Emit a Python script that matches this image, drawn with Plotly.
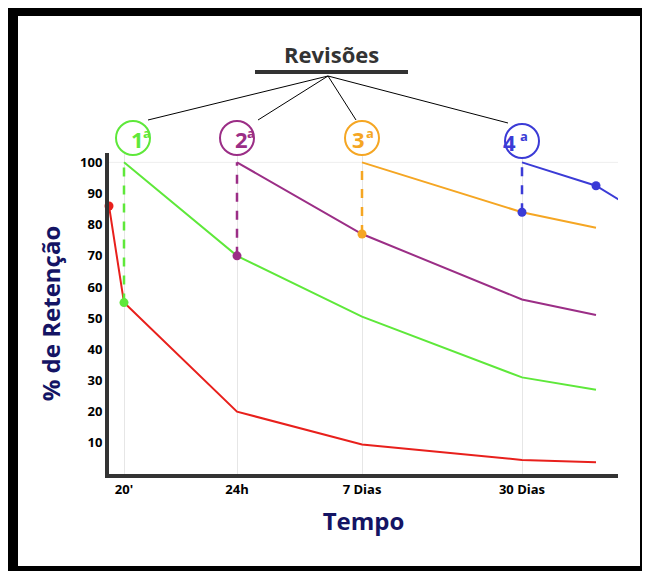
import plotly.graph_objects as go

# x positions (time axis units) and tick labels
tick_x = [15, 128, 253, 413]
tick_labels = ["20'", "24h", "7 Dias", "30 Dias"]

red_x = [0, 15, 128, 253, 413, 487]
red_y = [86, 55, 20, 9.5, 4.5, 3.8]
green_x = [15, 128, 253, 413, 487]
green_y = [100, 70, 50.5, 31, 27]
purple_x = [128, 253, 413, 487]
purple_y = [100, 77, 56, 51]
orange_x = [253, 413, 487]
orange_y = [100, 84, 79]
blue_x = [413, 487, 510]
blue_y = [100, 92.5, 88]

RED, GREEN, PURPLE, ORANGE, BLUE = "#e8201c", "#5ee83a", "#9b2e86", "#f5a623", "#3b3bd6"

L, R, T, B, W, H = 101, 40, 145, 105, 650, 571
def px(x): return (x - L) / (W - L - R)
def py(y): return (H - B - y) / (H - T - B)

fig = go.Figure()
lines = [(red_x, red_y, RED), (green_x, green_y, GREEN), (purple_x, purple_y, PURPLE),
         (orange_x, orange_y, ORANGE), (blue_x, blue_y, BLUE)]
for xs, ys, c in lines:
    fig.add_trace(go.Scatter(x=xs, y=ys, mode="lines", line=dict(color=c, width=2)))

# dashed jumps at each review
prev = [(green_x[0], red_y[1], GREEN), (purple_x[0], green_y[1], PURPLE),
        (orange_x[0], purple_y[1], ORANGE), (blue_x[0], orange_y[1], BLUE)]
for x, y0, c in prev:
    fig.add_trace(go.Scatter(x=[x, x], y=[y0, 100], mode="lines",
                             line=dict(color=c, width=2.5, dash="dash")))

mk = [(red_x[0], red_y[0], RED), (green_x[0], red_y[1], GREEN), (purple_x[0], green_y[1], PURPLE),
      (orange_x[0], purple_y[1], ORANGE), (blue_x[0], orange_y[1], BLUE), (blue_x[1], blue_y[1], BLUE)]
for x, y, c in mk:
    fig.add_trace(go.Scatter(x=[x], y=[y], mode="markers", marker=dict(color=c, size=9), cliponaxis=False))

shapes = [dict(type="rect", xref="paper", yref="paper", x0=px(10), x1=px(632), y0=py(558), y1=py(8),
               fillcolor="white", line_width=0, layer="below"),
          dict(type="line", xref="paper", yref="paper", x0=px(247), x1=px(400), y0=py(64), y1=py(64),
               line=dict(color="#333", width=4))]
for tx, ty in [(140, 112), (250, 112), (348, 112), (500, 115)]:
    shapes.append(dict(type="line", xref="paper", yref="paper", x0=px(320), y0=py(68),
                       x1=px(tx), y1=py(ty), line=dict(color="black", width=1)))
circles = [(125, 130, GREEN, "1"), (229, 130, PURPLE, "2"), (354, 130, ORANGE, "3"), (514, 133, BLUE, "4")]
annotations = []
for cx, cy, c, t in circles:
    shapes.append(dict(type="circle", xref="paper", yref="paper", xsizemode="pixel", ysizemode="pixel",
                       xanchor=px(cx), yanchor=py(cy), x0=-17, x1=17, y0=-17, y1=17,
                       line=dict(color=c, width=2), fillcolor="white"))
    annotations.append(dict(xref="paper", yref="paper", x=px(cx - 4), y=py(cy + 1), showarrow=False,
                            yanchor="middle", text=f"<b>{t}</b>", font=dict(color=c, size=22)))
    annotations.append(dict(xref="paper", yref="paper", x=px(cx + 8), y=py(cy - 5), showarrow=False,
                            yanchor="middle", text="<b>a</b>", font=dict(color=c, size=13)))
annotations.append(dict(xref="paper", yref="paper", x=px(323), y=py(46), showarrow=False,
                        yanchor="middle", text="<b>Revisões</b>", font=dict(color="#333", size=22)))

fig.update_layout(
    width=W, height=H, paper_bgcolor="black", plot_bgcolor="white", showlegend=False,
    margin=dict(l=L, r=R, t=T, b=B, autoexpand=False),
    font=dict(family="Open Sans", color="black"),
    shapes=shapes, annotations=annotations,
    xaxis=dict(range=[0, 509], tickvals=tick_x, ticktext=[f"<b>{t}</b>" for t in tick_labels],
               showgrid=True, gridcolor="#e6e6e6", showline=True, linecolor="#333", linewidth=4,
               zeroline=False, tickfont=dict(size=13), automargin=False,
               title=dict(text="<b>Tempo</b>", font=dict(size=24, color="#141464"), standoff=18)),
    yaxis=dict(range=[0, 103], tickvals=list(range(10, 101, 10)),
               ticktext=[f"<b>{v}</b>" for v in range(10, 101, 10)],
               showgrid=False, showline=True, linecolor="#333", linewidth=4, zeroline=False,
               tickfont=dict(size=13), automargin=False,
               title=dict(text="<b>% de Retenção</b>", font=dict(size=24, color="#141464"), standoff=14)),
)
fig.add_hline(y=100, line=dict(color="#eeeeee", width=1), layer="below")
fig.write_html("out.html")
